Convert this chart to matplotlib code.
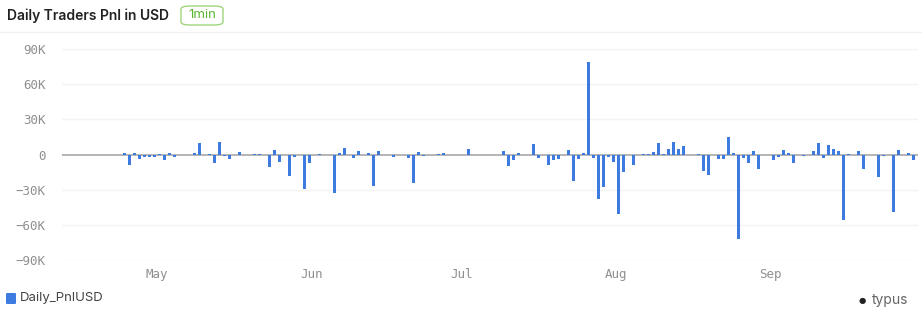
import matplotlib
matplotlib.use("Agg")
import matplotlib.pyplot as plt
import matplotlib.dates as mdates
from matplotlib.patches import FancyBboxPatch
from matplotlib.ticker import FuncFormatter
import numpy as np
import pandas as pd

# daily pnl in thousands of USD, one value per day from 2024-04-24
start_date = "2024-04-24 12:00"
pnl_k = [
    1.5, -9.3, 1, -4, -2, -2, -2, 0.5, -5, 1,
    -2, 0, 0, -0.5, 1.5, 10, 0, 0.3, -7, 11,
    -1, -4, 0, 2.5, 0, 0, 0.3, 0.3, -0.5, -10.5,
    3.7, -6.5, 0, -18, -2, 0, -29.5, -7.3, 0, 0.3,
    0, 0, -33, 1.2, 5.6, 0, -3, 3, 0, 1.7,
    -27, 3, 0, 0, -2, 0, 0, -3, -24.5, 2.3,
    -1.5, 0, 0, 0.5, 1, 0, 0, 0, 0, 5,
    -0.5, 0, 0, 0, 0, 0, 3, -10, -4.5, 1.5,
    0, 0, 9.3, -3.4, 0, -9, -4.8, -4.2, 0, 4.2,
    -22.5, -3.7, 1.2, 79, -3.4, -38, -28, -2.3, -6.8, -51,
    -15, 0, -9.3, 0, 0.3, 0.3, 2.3, 10, 0.6, 5,
    11, 4.5, 7, 0, -0.5, 0.5, -13.8, -17.5, 0, -3.7,
    -3.7, 14.6, 1.2, -72, -3, -7, 3, -12, 0, 0,
    -4.5, -2, 4, 1.7, -7.5, 0, -1.4, 0, 2.8, 9.6,
    -3.4, 7.9, 4.8, 3.4, -56, 0.3, 0, 2.8, -12, 0,
    0, -19, -1.7, 0, -49, 3.7, 0, 1.2, -4.5,
]
yticks_k = [-90, -60, -30, 0, 30, 60, 90]

dates = pd.date_range(start_date, periods=len(pnl_k), freq="D")
values = np.array(pnl_k) * 1000

fig = plt.figure(figsize=(9.22, 3.12), dpi=100)
ax = fig.add_axes([62 / 922, 1 - 260 / 312, 856 / 922, 211 / 312])

bar_color = "#3d7be0"
ax.bar(dates, values, width=0.6, color=bar_color, zorder=3)

ax.set_ylim(-90000, 90000)
ax.set_xlim(pd.Timestamp("2024-04-12"), pd.Timestamp("2024-09-30 12:00"))
ax.set_yticks([v * 1000 for v in yticks_k])
ax.yaxis.set_major_formatter(FuncFormatter(
    lambda v, p: "0" if v == 0 else f"{int(v / 1000)}K".replace("-", "\u2212")))
ax.xaxis.set_major_locator(mdates.MonthLocator(bymonth=[5, 6, 7, 8, 9]))
ax.xaxis.set_major_formatter(mdates.DateFormatter("%b"))

for y in yticks_k:
    if y != 0:
        ax.axhline(y * 1000, color="#f3f3f3", lw=1, zorder=1)
ax.axhline(0, color="#a0a0a0", lw=1.1, zorder=2)

for s in ax.spines.values():
    s.set_visible(False)
ax.tick_params(axis="both", length=0, colors="#8f8f8f", labelsize=9)
ax.tick_params(axis="y", pad=12)
ax.tick_params(axis="x", pad=6)
for lab in ax.get_xticklabels() + ax.get_yticklabels():
    lab.set_family("DejaVu Sans Mono")

# header
fig.text(7 / 922, 1 - 16 / 312, "Daily Traders Pnl in USD", fontsize=10,
         family="Inter", weight="semibold", color="#222222", va="center")
badge = FancyBboxPatch((181 / 922, 1 - 25 / 312), 42 / 922, 19 / 312,
                       boxstyle="round,pad=0,rounding_size=0.01",
                       transform=fig.transFigure, facecolor="white",
                       edgecolor="#9ed47c", lw=1)
fig.patches.append(badge)
fig.text(202 / 922, 1 - 15.5 / 312, "1min", fontsize=9.5, family="Inter",
         color="#5cb531", ha="center", va="center")
fig.add_artist(plt.Line2D([0, 1], [1 - 32 / 312, 1 - 32 / 312],
                          color="#f2f2f2", lw=1, transform=fig.transFigure))

# legend
fig.patches.append(FancyBboxPatch((6 / 922, 1 - 304 / 312), 10 / 922, 11 / 312,
                                  boxstyle="round,pad=0,rounding_size=0.002",
                                  transform=fig.transFigure,
                                  facecolor=bar_color, edgecolor="none"))
fig.text(20 / 922, 1 - 298.5 / 312, "Daily_PnlUSD", fontsize=9.5,
         family="Inter", color="#444444", va="center")

# watermark
fig.text(862 / 922, 1 - 300 / 312, "\u25cf", fontsize=6, color="#222222",
         ha="center", va="center")
fig.text(872 / 922, 1 - 300 / 312, "typus", fontsize=10, family="Inter",
         color="#666666", va="center")

fig.savefig("out.png", dpi=100)
